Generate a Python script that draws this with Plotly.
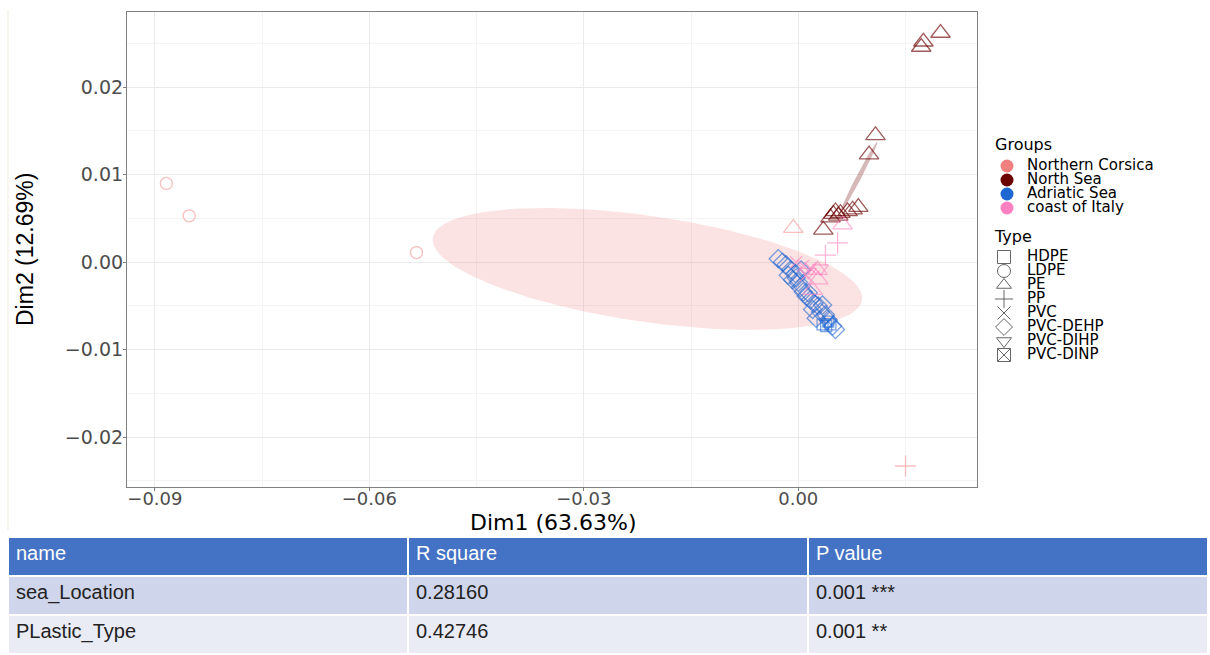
import numpy as np
import plotly.graph_objects as go

W, H = 1210, 655

# ---------------- data ----------------
groups = ["Northern Corsica", "North Sea", "Adriatic Sea", "coast of Italy"]
group_colors = ["#F08080", "#6B0000", "#1E66D0", "#FF80C0"]
types = ["HDPE", "LDPE", "PE", "PP", "PVC", "PVC-DEHP", "PVC-DIHP", "PVC-DINP"]
type_symbols = ["square-open", "circle-open", "triangle-up-open", "cross-thin-open",
                "x-thin-open", "diamond-open", "triangle-down-open", "square-x-open"]

corsica_type = ["LDPE", "LDPE", "LDPE", "PE", "PP"]
corsica_x = [-0.0884, -0.0852, -0.0534, -0.0007, 0.0150]
corsica_y = [0.0090, 0.0053, 0.0011, 0.0039, -0.0233]

northsea_type = ["PE"] * 14
northsea_x = [0.0199, 0.0175, 0.0172, 0.0108, 0.0099, 0.0052, 0.0059, 0.0069,
              0.0084, 0.0076, 0.0045, 0.0035, 0.0056, 0.0049]
northsea_y = [0.0262, 0.0252, 0.0246, 0.0145, 0.0123, 0.0058, 0.0056, 0.0058,
              0.0063, 0.0060, 0.0051, 0.0037, 0.0053, 0.0055]

adriatic_type = ["PVC-DEHP"] * 25 + ["HDPE", "HDPE", "HDPE", "PVC-DINP"]
adriatic_x = [-0.0028, -0.0022, -0.0017, -0.0011, -0.0014, -0.0004, -0.0008, 0.0000,
              0.0003, 0.0007, 0.0011, 0.0017, 0.0022, 0.0028, 0.0034, 0.0020,
              0.0031, 0.0038, 0.0025, 0.0042, 0.0052, 0.0048, 0.0014, -0.0003,
              0.0004, 0.0039, 0.0034, 0.0045, 0.0042]
adriatic_y = [0.0004, 0.0000, -0.0003, -0.0009, -0.0015, -0.0013, -0.0020, -0.0023,
              -0.0029, -0.0034, -0.0039, -0.0043, -0.0047, -0.0050, -0.0049, -0.0054,
              -0.0057, -0.0060, -0.0064, -0.0066, -0.0077, -0.0073, -0.0035, -0.0018,
              -0.0009, -0.0073, -0.0071, -0.0071, -0.0068]

italy_type = ["PP", "PP", "PE", "PVC", "PVC", "PVC", "PVC", "PE", "PE", "PE",
              "PVC-DIHP", "PVC-DIHP"]
italy_x = [0.0055, 0.0038, 0.0062, -0.0003, 0.0007, 0.0017, 0.0011, 0.0027, 0.0028,
           0.0020, 0.0031, 0.0014]
italy_y = [0.0022, 0.0008, 0.0043, 0.0000, -0.0004, -0.0007, -0.0015, -0.0009,
           -0.0020, -0.0032, -0.0007, -0.0011]

# confidence ellipses: centre, semi-axis vector u, semi-axis vector v
corsica_ell_center = [-0.0211, -0.00077]
corsica_ell_u = [0.03004, -0.00355]
corsica_ell_v = [-0.001057, -0.0060]
northsea_ell_center = [0.00846, 0.0097]
northsea_ell_u = [0.00259, 0.00406]
northsea_ell_v = [0.00031, -0.000133]

x_label = "Dim1 (63.63%)"
y_label = "Dim2 (12.69%)"

table_header = ["name", "R square", "P value"]
table_name = ["sea_Location", "PLastic_Type"]
table_r2 = ["0.28160", "0.42746"]
table_p = ["0.001 ***", "0.001 **"]

# ---------------- figure ----------------
fig = go.Figure()


def rgba(hexc, a):
    hexc = hexc.lstrip("#")
    r, g, b = int(hexc[0:2], 16), int(hexc[2:4], 16), int(hexc[4:6], 16)
    return f"rgba({r},{g},{b},{a})"


def ellipse(c, u, v, n=120):
    t = np.linspace(0, 2 * np.pi, n)
    return (c[0] + u[0] * np.cos(t) + v[0] * np.sin(t),
            c[1] + u[1] * np.cos(t) + v[1] * np.sin(t))


ex, ey = ellipse(corsica_ell_center, corsica_ell_u, corsica_ell_v)
fig.add_trace(go.Scatter(x=ex, y=ey, mode="lines", fill="toself",
                         fillcolor=rgba(group_colors[0], 0.22), line=dict(width=0),
                         showlegend=False, hoverinfo="skip"))
ex, ey = ellipse(northsea_ell_center, northsea_ell_u, northsea_ell_v)
fig.add_trace(go.Scatter(x=ex, y=ey, mode="lines", fill="toself",
                         fillcolor=rgba(group_colors[1], 0.28), line=dict(width=0),
                         showlegend=False, hoverinfo="skip"))

group_data = [
    (corsica_type, corsica_x, corsica_y, 0.5),
    (northsea_type, northsea_x, northsea_y, 0.65),
    (adriatic_type, adriatic_x, adriatic_y, 0.6),
    (italy_type, italy_x, italy_y, 0.6),
]
sizes = {"circle-open": 12, "triangle-up-open": 17, "triangle-down-open": 14,
         "diamond-open": 14, "square-open": 11, "square-x-open": 11,
         "cross-thin-open": 15, "x-thin-open": 12}
for gi, (tt, xx, yy, a) in enumerate(group_data):
    for ti, tname in enumerate(types):
        idx = [k for k, t in enumerate(tt) if t == tname]
        if not idx:
            continue
        sym = type_symbols[ti]
        fig.add_trace(go.Scatter(
            x=[xx[k] for k in idx], y=[yy[k] for k in idx], mode="markers",
            marker=dict(symbol=sym, size=sizes[sym], color=rgba(group_colors[gi], a),
                        line=dict(color=rgba(group_colors[gi], a), width=1.3)),
            name=f"{groups[gi]} {tname}", showlegend=False))

# ---------------- legend drawn on a helper axis (pixel units) ----------------
lg_x0, lg_x1, lg_y0, lg_y1 = 985, 1210, 130, 370
font_leg = "DejaVu Sans, Arial, sans-serif"
grp_y = [166, 180, 194, 208]
type_y = [257, 271, 285, 299, 313, 327, 341, 355]
fig.add_trace(go.Scatter(x=[1007] * 4, y=grp_y, mode="markers", xaxis="x2", yaxis="y2",
                         marker=dict(size=13, color=group_colors, symbol="circle"),
                         showlegend=False, hoverinfo="skip"))
fig.add_trace(go.Scatter(x=[1027] * 4, y=grp_y, mode="text", text=groups,
                         textposition="middle right", xaxis="x2", yaxis="y2",
                         textfont=dict(size=15, family=font_leg, color="#000"),
                         showlegend=False, hoverinfo="skip"))
fig.add_trace(go.Scatter(x=[1004] * 8, y=type_y, mode="markers", xaxis="x2", yaxis="y2",
                         marker=dict(size=13, symbol=type_symbols, color="#666666",
                                     line=dict(color="#666666", width=1)),
                         showlegend=False, hoverinfo="skip"))
fig.add_trace(go.Scatter(x=[1027] * 8, y=type_y, mode="text", text=types,
                         textposition="middle right", xaxis="x2", yaxis="y2",
                         textfont=dict(size=15, family=font_leg, color="#000"),
                         showlegend=False, hoverinfo="skip"))
fig.add_trace(go.Scatter(x=[995, 995], y=[146, 238], mode="text", text=["Groups", "Type"],
                         textposition="middle right", xaxis="x2", yaxis="y2",
                         textfont=dict(size=16, family=font_leg, color="#000"),
                         showlegend=False, hoverinfo="skip"))

# ---------------- table ----------------
fig.add_trace(go.Table(
    domain=dict(x=[8 / W, 1208 / W], y=[0, (H - 537) / H]),
    columnwidth=[1, 1, 1],
    header=dict(values=table_header, fill_color="#4472C4", align="left", height=39,
                line=dict(color="white", width=2),
                font=dict(color="white", size=20, family="Liberation Sans, Arial")),
    cells=dict(values=[table_name, table_r2, table_p],
               fill_color=[["#CFD5EA", "#E9EBF5"]] * 3, align="left", height=39,
               line=dict(color="white", width=2),
               font=dict(color="#222222", size=20, family="Liberation Sans, Arial")),
))

# ---------------- layout ----------------
px_l, px_r, px_t, px_b = 127, 977, 12, 487
tick_font = dict(size=18, family="DejaVu Sans, Arial, sans-serif", color="#4D4D4D")
fig.update_layout(
    width=W, height=H, margin=dict(l=0, r=0, t=0, b=0),
    paper_bgcolor="white", plot_bgcolor="white", showlegend=False,
    xaxis=dict(domain=[px_l / W, px_r / W], range=[-0.0939, 0.0250],
               tickvals=[-0.09, -0.06, -0.03, 0.0], tickformat=".2f",
               showgrid=True, gridcolor="#EBEBEB", gridwidth=1.1, zeroline=False,
               minor=dict(tickvals=[-0.075, -0.045, -0.015, 0.015], showgrid=True,
                          gridcolor="#F4F4F4", gridwidth=0.6, ticklen=0),
               showline=True, mirror=True, linecolor="#808080", linewidth=1.2,
               ticks="outside", ticklen=3, tickcolor="#808080", tickfont=tick_font,
               ticklabelstandoff=-8),
    yaxis=dict(domain=[(H - px_b) / H, (H - px_t) / H], range=[-0.0257, 0.0286],
               tickvals=[-0.02, -0.01, 0.0, 0.01, 0.02], tickformat=".2f",
               showgrid=True, gridcolor="#EBEBEB", gridwidth=1.1, zeroline=False,
               minor=dict(tickvals=[-0.025, -0.015, -0.005, 0.005, 0.015, 0.025],
                          showgrid=True, gridcolor="#F4F4F4", gridwidth=0.6, ticklen=0),
               showline=True, mirror=True, linecolor="#808080", linewidth=1.2,
               ticks="outside", ticklen=3, tickcolor="#808080",
               tickfont=dict(tick_font, size=19), ticklabelstandoff=-4),
    xaxis2=dict(domain=[lg_x0 / W, lg_x1 / W], range=[lg_x0, lg_x1], visible=False,
                anchor="y2"),
    yaxis2=dict(domain=[(H - lg_y1) / H, (H - lg_y0) / H], range=[lg_y1, lg_y0],
                visible=False, anchor="x2"),
    annotations=[
        dict(text=x_label, x=553 / W, y=(H - 522) / H, xref="paper", yref="paper",
             showarrow=False, font=dict(size=22, family="DejaVu Sans, Arial", color="#000"),
             xanchor="center", yanchor="middle"),
        dict(text=y_label, x=25 / W, y=(H - 250) / H, xref="paper", yref="paper",
             showarrow=False, textangle=-90,
             font=dict(size=23, family="Liberation Sans, Arial", color="#000"),
             xanchor="center", yanchor="middle"),
    ],
    shapes=[dict(type="line", xref="paper", yref="paper", x0=8 / W, x1=8 / W,
                 y0=(H - 530) / H, y1=(H - 10) / H, line=dict(color="#F1EBDF", width=1))],
)

fig.write_html("out.html")
